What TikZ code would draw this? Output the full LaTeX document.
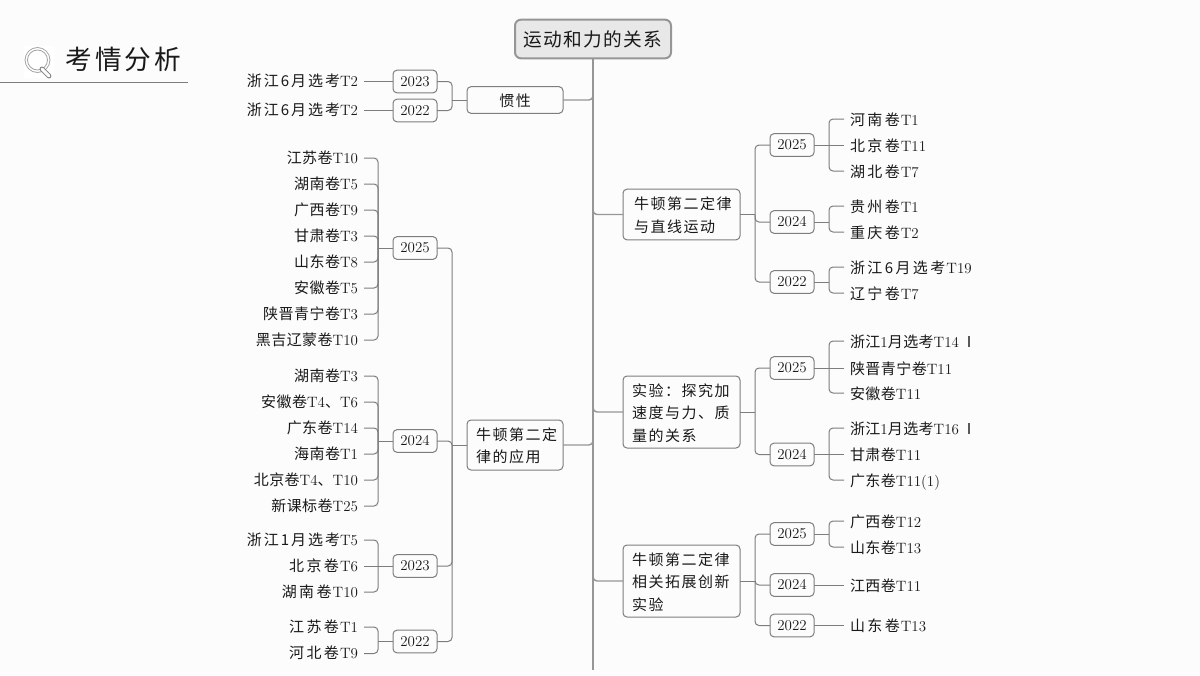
\documentclass[tikz,border=0pt]{standalone}
\usepackage{fontspec}
\usepackage{color}
\definecolor{mypaper}{RGB}{252,252,252}
\definecolor{myroot}{RGB}{232,232,232}
\definecolor{mytrunk}{RGB}{150,150,150}
\definecolor{myline}{RGB}{125,125,125}
\definecolor{myink}{RGB}{25,25,25}
\newfontfamily\cjk[LetterSpace=3]{Noto Sans CJK SC}
\newfontfamily\cjkmid[LetterSpace=13]{Noto Sans CJK SC}
\newfontfamily\cjkwide[LetterSpace=16]{Noto Sans CJK SC}
\newfontfamily\cjktopic[LetterSpace=10]{Noto Sans CJK SC}
\newfontfamily\cjkroot[LetterSpace=7]{Noto Sans CJK SC}
\newfontfamily\cjktitle[LetterSpace=12]{Noto Sans CJK SC}
\newcommand{\zh}[1]{{\cjk #1}}
\newcommand{\zm}[1]{{\cjkmid #1}}
\newcommand{\zw}[1]{{\cjkwide #1}\kern0.8pt}
\usetikzlibrary{calc,positioning}

\begin{document}
\begin{tikzpicture}[
  x=0.75pt,
  y=-0.75pt,
  mybox/.style={
    draw=myline,
    fill=mypaper,
    line width=0.75pt,
    rounded corners=3pt,
    inner xsep=0pt,
    inner ysep=0pt,
    outer sep=0pt,
    text=myink
    },
  myroot/.style={
    mybox,
    draw=mytrunk,
    fill=myroot,
    line width=1.5pt,
    rounded corners=4.5pt,
    minimum width=117pt,
    minimum height=29pt,
    font=\fontsize{14}{18}\selectfont\cjkroot
    },
  mytopic/.style={
    mybox,
    minimum height=#1,
    align=left,
    execute at begin node={\leavevmode\vadjust pre{\vskip 1.5pt}},
    font=\fontsize{11.25}{16.9}\selectfont\cjktopic
    },
  myleft/.style={
    mytopic=#1,
    text width=58.5pt,
    minimum width=72pt,
    inner xsep=6.75pt
    },
  myright/.style={
    mytopic=#1,
    text width=74.25pt,
    minimum width=87.75pt,
    inner xsep=6.75pt
    },
  myyear/.style={
    mybox,
    minimum width=33pt,
    minimum height=17pt,
    font=\fontsize{11.25}{13}\selectfont
    },
  myleaf/.style={
    inner xsep=4.5pt,
    inner ysep=0pt,
    outer sep=0pt,
    text height=9.5pt,
    text depth=0.5pt,
    text=myink,
    font=\fontsize{11.25}{13}\selectfont
    },
  leafwest/.style={myleaf,anchor=west},
  leafeast/.style={myleaf,anchor=east,text height=9.1pt,text depth=0.9pt},
  trunklink/.style={draw=mytrunk,line width=1.5pt},
  mainlink/.style={draw=mytrunk,line width=1.1pt,rounded corners=3pt},
  sublink/.style={draw=myline,line width=0.75pt,rounded corners=3pt}
]

\useasboundingbox[fill=mypaper] (0,0) rectangle (1200,675);

% title
\fill[white] (24,46) rectangle (54,78);
\draw[draw=myline!70,line width=0.6pt] (37.5,60) circle (12.5);
\draw[draw=myline!70,line width=0.6pt] (37.5,60) circle (10);
\draw[draw=myline,line width=3.6pt,line cap=round] (42,69) -- (49,76);
\draw[draw=white,line width=2.2pt,line cap=round] (42,69) -- (49,76);
\node[anchor=west,inner sep=0pt,text=myink,font=\fontsize{20}{24}\selectfont\cjktitle]
  (title) at (65,59) {考情分析};
\draw[draw=myline,line width=0.6pt] (0,82) -- (188,82);

% root and trunk
\node[myroot] (root) at (593,39) {运动和力的关系};
\coordinate (trunkend) at (593,669.5);

% left topics
\node[myleft=20pt,align=center] (inertia) at (515,100) {惯性};
\node[myleft=37.5pt] (apply) at (515,445)
  {牛顿第二定\\律的应用};

% right topics
\node[myright=38pt] (motion) at (681.5,214.5)
  {\hspace*{1.5pt}牛顿第二定律\\\hspace*{1.5pt}与直线运动};
\node[myright=54pt] (exper) at (681.5,412)
  {实验：探究加\\速度与力、质\\量的关系};
\node[myright=54pt] (extend) at (681.5,581)
  {牛顿第二定律\\相关拓展创新\\实验};

\draw[trunklink] (root.south) -- (trunkend);
\foreach \Valor in {inertia,apply} {
  \draw[mainlink] (root.south) |- (\Valor.east);
  \draw[sublink] (\Valor.west) -- ++(-15,0) coordinate (\Valor-bus);
}
\foreach \Valor in {motion,exper,extend} {
  \draw[mainlink] (root.south) |- (\Valor.west);
  \draw[sublink] (\Valor.east) -- ++(15,0) coordinate (\Valor-bus);
}

% inertia
\foreach \Nombre/\Anio/\Posy in {a/2023/81.5,b/2022/110.5} {
  \node[myyear] (inertia\Nombre) at (415,\Posy) {\Anio};
  \draw[sublink] (inertia-bus) |- (inertia\Nombre.east);
  \node[leafeast] (inertia\Nombre-leaf) at (364,\Posy) {\zm{浙江6月选考}T2};
  \draw[sublink] (inertia\Nombre.west) -- (inertia\Nombre-leaf.east);
}

% application, year by year
\foreach \Nombre/\Anio/\Posy in {a/2025/248,b/2024/441,c/2023/566,d/2022/641.5} {
  \node[myyear] (apply\Nombre) at (415,\Posy) {\Anio};
  \draw[sublink] (apply-bus) |- (apply\Nombre.east);
  \draw[sublink] (apply\Nombre.west) -- ++(-15,0) coordinate (apply\Nombre-bus);
}

\foreach \Padre/\Valor/\Posy [count=\Valori] in {
  applya/{\zh{江苏卷}T10}/158,applya/{\zh{湖南卷}T5}/184,applya/{\zh{广西卷}T9}/210,applya/{\zh{甘肃卷}T3}/236,
  applya/{\zh{山东卷}T8}/262,applya/{\zh{安徽卷}T5}/288,applya/{\zh{陕晋青宁卷}T3}/314,applya/{\zh{黑吉辽蒙卷}T10}/340,
  applyb/{\zh{湖南卷}T3}/376,applyb/{\zh{安徽卷}T4\zh{、}T6}/402,applyb/{\zh{广东卷}T14}/428,
  applyb/{\zh{海南卷}T1}/454,applyb/{\zh{北京卷}T4\zh{、}T10}/480,applyb/{\zh{新课标卷}T25}/506,
  applyc/{\zm{浙江1月选考}T5}/540,applyc/{\zw{湖南卷}T10}/592,
  applyd/{\zw{江苏卷}T1}/627,applyd/{\zw{河北卷}T9}/653.5} {
  \node[leafeast] (lleaf\Valori) at (364,\Posy) {\Valor};
  \draw[sublink] (\Padre-bus) |- (lleaf\Valori.east);
}
\node[leafeast] (lleafmid) at (364,566) {\zw{北京卷}T6};
\draw[sublink] (applyc-bus) -- (lleafmid.east);

% years of the right topics
\foreach \Padre/\Nombre/\Anio/\Posy in {
  motion/a/2025/145,motion/b/2024/222,motion/c/2022/282,
  exper/a/2025/368,exper/b/2024/454.5,
  extend/a/2025/534,extend/b/2024/585,extend/c/2022/625.5} {
  \node[myyear] (\Padre\Nombre) at (792,\Posy) {\Anio};
  \draw[sublink] (\Padre-bus) |- (\Padre\Nombre.west);
  \draw[sublink] (\Padre\Nombre.east) -- ++(15,0) coordinate (\Padre\Nombre-bus);
}

% right leaves
\foreach \Padre/\Valor/\Posy [count=\Valori] in {
  motiona/{\zw{河南卷}T1}/119,motiona/{\zw{湖北卷}T7}/171,
  motionb/{\zw{贵州卷}T1}/206,motionb/{\zw{重庆卷}T2}/232,
  motionc/{\zw{浙江6月选考}T19}/267,motionc/{\zw{辽宁卷}T7}/293,
  expera/{\zh{浙江}1\zh{月选考}T14\,\zh{Ⅰ}}/341,expera/{\zh{安徽卷}T11}/393,
  experb/{\zh{浙江}1\zh{月选考}T16\,\zh{Ⅰ}}/428,experb/{\zh{广东卷}T11(1)}/480,
  extenda/{\zh{广西卷}T12}/521,extenda/{\zh{山东卷}T13}/547} {
  \node[leafwest] (rleaf\Valori) at (844,\Posy) {\Valor};
  \draw[sublink] (\Padre-bus) |- (rleaf\Valori.west);
}
\foreach \Padre/\Valor/\Posy [count=\Valori] in {
  motiona/{\zw{北京卷}T11}/145,
  expera/{\zh{陕晋青宁卷}T11}/368,
  experb/{\zh{甘肃卷}T11}/454.5,
  extendb/{\zh{江西卷}T11}/585,
  extendc/{\zw{山东卷}T13}/625.5} {
  \node[leafwest] (rmid\Valori) at (844,\Posy) {\Valor};
  \draw[sublink] (\Padre-bus) -- (rmid\Valori.west);
}

\end{tikzpicture}
\end{document}
